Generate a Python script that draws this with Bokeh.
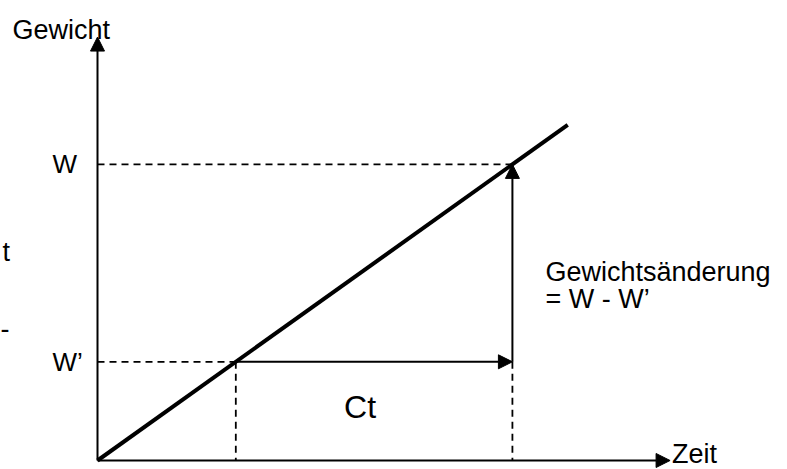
from bokeh.plotting import figure
from bokeh.models import Arrow, NormalHead, Range1d
from bokeh.core.properties import value
from bokeh.embed import file_html
from bokeh.resources import INLINE

# ---- data (abstract units: time on x, weight on y) ----
t_prime = 1.0          # time at weight W'
t_w = 3.0              # time at weight W
W_prime = 1.0          # weight W'
W_val = 3.0            # weight W
line_time = [0.0, 3.4]     # growth line
line_weight = [0.0, 3.4]
axis_time_end = 4.14
axis_weight_end = 4.29
axis_title_y = "Gewicht"
axis_title_x = "Zeit"
level_labels = ["W", "W\u2019"]
interval_label = "Ct"
change_label = ["Gewichtsänderung", "= W - W\u2019"]
edge_fragments = ["t", "-"]   # cut-off text fragments at the left edge

FONT = value("Liberation Sans")

p = figure(width=787, height=469, output_backend="svg", toolbar_location=None,
           x_range=Range1d(-0.7014, 4.989), y_range=Range1d(-0.0912, 4.6606),
           min_border=0, x_axis_location=None, y_axis_location=None,
           background_fill_color="white", border_fill_color="white")
p.grid.visible = False
p.outline_line_color = None

# dashed guide lines
p.multi_line(xs=[[0, t_w], [0, t_prime], [t_prime, t_prime], [t_w, t_w]],
             ys=[[W_val, W_val], [W_prime, W_prime], [W_prime, 0], [W_prime, 0]],
             line_color="black", line_width=1.8, line_dash="7 5")

# main line
p.line(line_time, line_weight, line_color="black", line_width=4)

def arrow(x0, y0, x1, y1):
    p.add_layout(Arrow(end=NormalHead(size=14, fill_color="black", line_color="black", line_width=1),
                       x_start=x0, y_start=y0, x_end=x1, y_end=y1,
                       line_color="black", line_width=2))

# axes
arrow(0, 0, 0, axis_weight_end)
arrow(0, 0, axis_time_end, 0)
# Ct arrow and weight change arrow
arrow(t_prime, W_prime, t_w, W_prime)
arrow(t_w, W_prime, t_w, W_val)

# texts
p.text(x=[0], y=[axis_weight_end], text=[axis_title_y], x_offset=-85, y_offset=-7,
       text_align="left", text_baseline="alphabetic", text_font=FONT,
       text_font_size="27px", text_color="black")
p.text(x=[axis_time_end], y=[0], text=[axis_title_x], x_offset=2, y_offset=-6,
       text_align="left", text_baseline="middle", text_font=FONT,
       text_font_size="27px", text_color="black")
p.text(x=[0, 0], y=[W_val, W_prime], text=level_labels, x_offset=-45,
       text_align="left", text_baseline="middle", text_font=FONT,
       text_font_size="26px", text_color="black")
p.text(x=[(t_prime + t_w) / 2], y=[W_prime], text=[interval_label], x_offset=-14, y_offset=45,
       text_align="center", text_baseline="alphabetic", text_font=FONT,
       text_font_size="32px", text_color="black")
p.text(x=[t_w, t_w], y=[(W_val + W_prime) / 2] * 2, text=change_label, x_offset=33,
       y_offset=[9, 36], text_align="left", text_baseline="alphabetic", text_font=FONT,
       text_font_size="27px", text_color="black")
p.text(x=[0, 0], y=[0, 0], text=edge_fragments, x_offset=[-95, -97], y_offset=[-208, -132],
       text_align="left", text_baseline="alphabetic", text_font=FONT,
       text_font_size="27px", text_color="black")

open("out.html", "w").write(file_html(p, INLINE))
